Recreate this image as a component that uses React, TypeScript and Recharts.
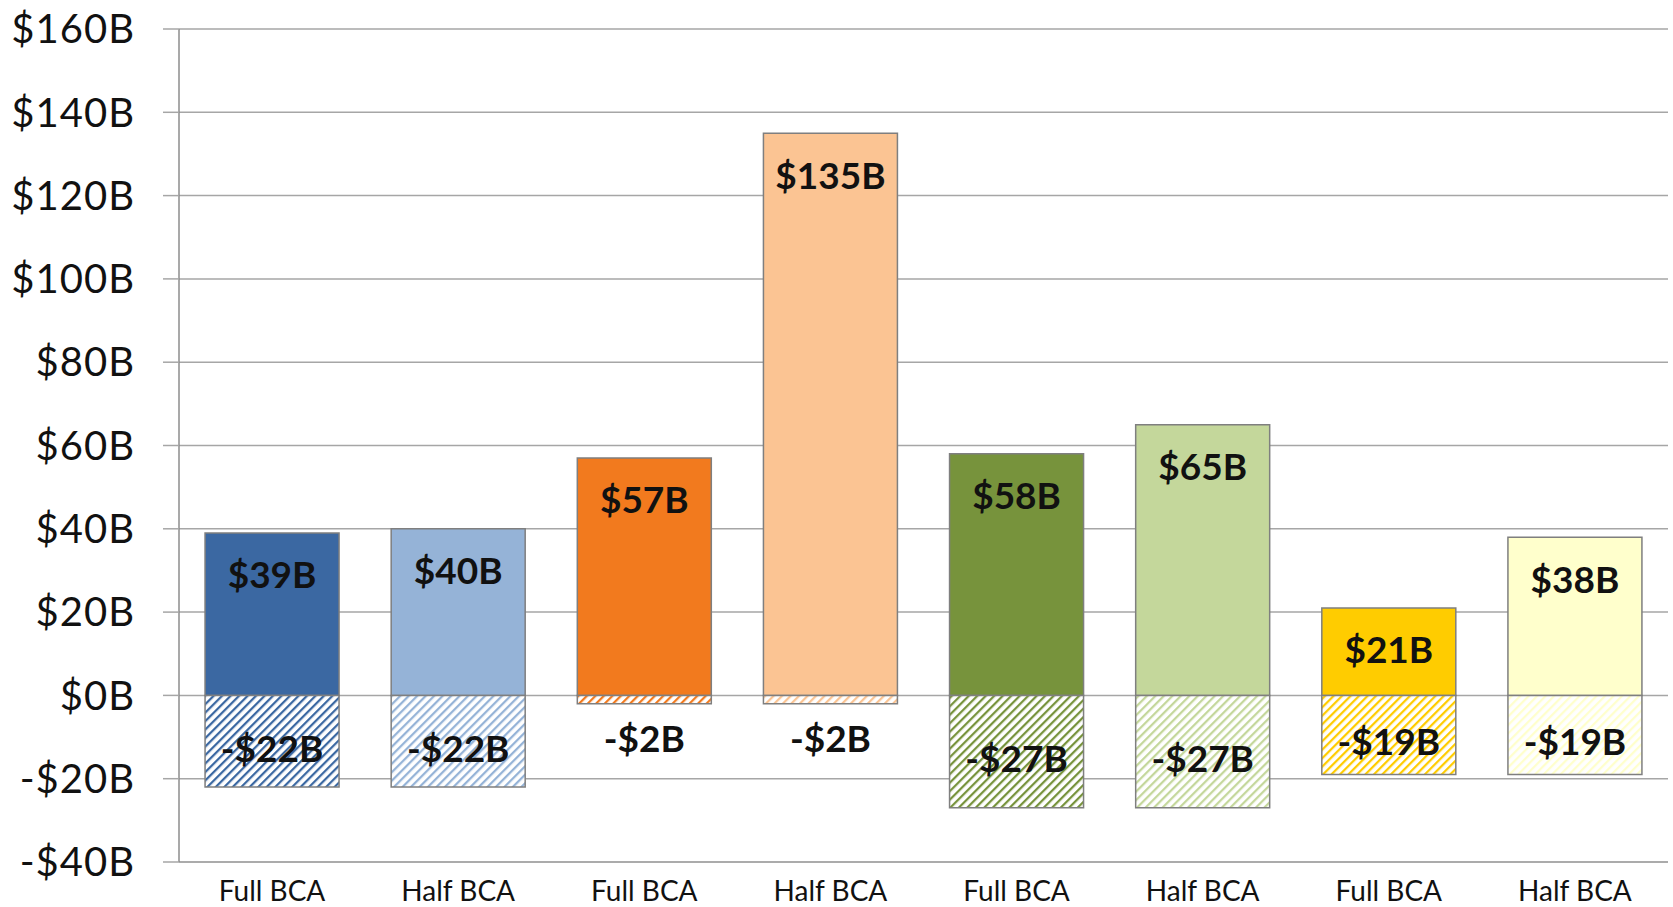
import React from "react";
import { BarChart, Bar, XAxis, YAxis, CartesianGrid, Cell, LabelList } from "recharts";

// Scenario values, in billions of dollars
const categories = ["Full BCA", "Half BCA", "Full BCA", "Half BCA", "Full BCA", "Half BCA", "Full BCA", "Half BCA"];
const gains = [39, 40, 57, 135, 58, 65, 21, 38];
const losses = [-22, -22, -2, -2, -27, -27, -19, -19];
const yTicks = [-40, -20, 0, 20, 40, 60, 80, 100, 120, 140, 160];

const barColors = ["#3b68a2", "#95b3d7", "#f27a1e", "#fbc493", "#77933c", "#c4d79b", "#ffcc00", "#ffffcc"];

const data = categories.map((name, i) => ({ name, gain: gains[i], loss: losses[i] }));

const FONT = "Lato, 'Open Sans', sans-serif";

const money = (v: number) => (v < 0 ? `-$${-v}B` : `$${v}B`);

function GainLabel(props: any) {
  const { x, y, width, height, value } = props;
  const top = Math.min(y, y + height);
  return (
    <text x={x + width / 2} y={top + 41} textAnchor="middle" dominantBaseline="central"
      fontFamily={FONT} fontWeight={700} fontSize={37} fill="#111">
      {money(value)}
    </text>
  );
}

function LossLabel(props: any) {
  const { x, y, width, height, value } = props;
  const top = Math.min(y, y + height);
  const h = Math.abs(height);
  const cy = top + Math.max(h / 2 + 6, 42);
  return (
    <text x={x + width / 2} y={cy} textAnchor="middle" dominantBaseline="central"
      fontFamily={FONT} fontWeight={700} fontSize={37} fill="#111">
      {money(value)}
    </text>
  );
}

export default function App() {
  return (
    <div style={{ position: "absolute", left: 0, top: 0, background: "#fff" }}>
      <BarChart width={1673} height={907} data={data} stackOffset="sign"
        margin={{ top: 29, right: 5, bottom: 0, left: 0 }} barCategoryGap="14%">
        <defs>
          {barColors.map((c, i) => (
            <pattern key={i} id={`hatch-${i}`} width={6} height={6}
              patternUnits="userSpaceOnUse" patternTransform="rotate(45)">
              <rect width={6} height={6} fill="#fff" />
              <line x1={0} y1={0} x2={0} y2={6} stroke={c} strokeWidth={4.5} />
            </pattern>
          ))}
        </defs>
        <CartesianGrid vertical={false} stroke="#a6a6a6" strokeWidth={1.5} />
        <XAxis dataKey="name" tickLine={false} axisLine={{ stroke: "#a6a6a6", strokeWidth: 1.5 }}
          height={45} tickMargin={13}
          tick={{ fontFamily: FONT, fontSize: 28, fill: "#111" }} />
        <YAxis domain={[-40, 160]} ticks={yTicks} tickFormatter={money} width={179}
          tickSize={16} tickMargin={28} interval={0}
          axisLine={{ stroke: "#8c8c8c", strokeWidth: 1.5 }} tickLine={{ stroke: "#a6a6a6", strokeWidth: 1.5 }}
          tick={{ fontFamily: FONT, fontSize: 40, letterSpacing: 1, fill: "#111" }} />
        <Bar dataKey="gain" stackId="s" isAnimationActive={false} stroke="#7f7f7f" strokeWidth={1.5}>
          {data.map((_, i) => <Cell key={i} fill={barColors[i]} />)}
          <LabelList dataKey="gain" content={GainLabel} />
        </Bar>
        <Bar dataKey="loss" stackId="s" isAnimationActive={false} stroke="#7f7f7f" strokeWidth={1.5}>
          {data.map((_, i) => <Cell key={i} fill={`url(#hatch-${i})`} />)}
          <LabelList dataKey="loss" content={LossLabel} />
        </Bar>
      </BarChart>
    </div>
  );
}
